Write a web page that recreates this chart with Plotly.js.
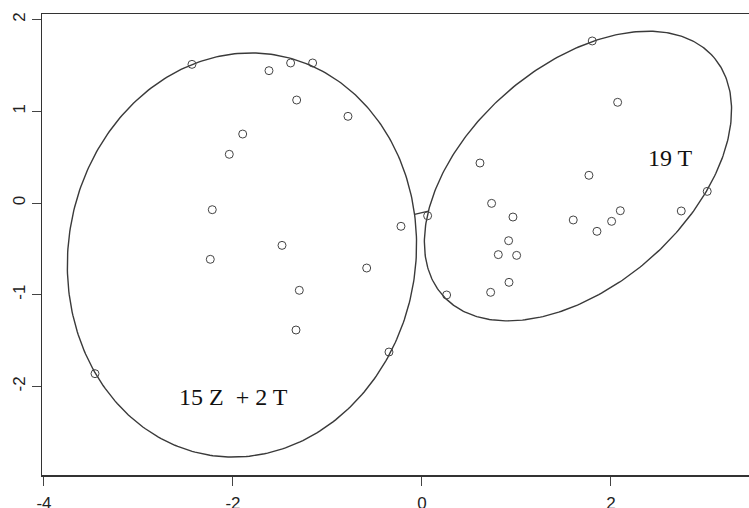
<!DOCTYPE html>
<html>
<head>
<meta charset="utf-8">
<script src="https://cdn.plot.ly/plotly-3.0.1.min.js"></script>
<style>html,body{margin:0;padding:0;background:#fff;}#chart{width:749px;height:508px;}</style>
</head>
<body>
<div id="chart"></div>
<script>
// Cluster 1 (15 Z + 2 T)
const cluster1X = [-2.434, -2.039, -1.897, -2.219, -2.240, -3.460, -1.619, -1.390, -1.157, -1.326, -0.783, -0.222, -1.481, -0.585, -1.298, -1.333, -0.349];
const cluster1Y = [1.512, 0.531, 0.752, -0.073, -0.614, -1.861, 1.443, 1.527, 1.527, 1.123, 0.945, -0.254, -0.462, -0.709, -0.952, -1.385, -1.625];
// Cluster 2 (19 T)
const cluster2X = [0.060, 0.261, 0.727, 1.802, 2.071, 1.767, 3.019, 2.744, 2.099, 2.007, 1.601, 1.852, 0.737, 0.963, 0.917, 0.808, 1.002, 0.921, 0.614];
const cluster2Y = [-0.139, -1.003, -0.974, 1.767, 1.098, 0.302, 0.127, -0.087, -0.084, -0.200, -0.185, -0.309, -0.004, -0.153, -0.411, -0.563, -0.571, -0.865, 0.436];
// Ellipse parameters: [centerX, centerY, semiAxisA, semiAxisB, angleDeg]
const ellipse1 = [-1.905, -0.567, 1.84, 2.21, -8];
const ellipse2 = [1.651, 0.294, 1.935, 1.180, 43.2];
const clusterLabels = ["15 Z  + 2 T", "19 T"];
const xTicks = [-4, -2, 0, 2];
const yTicks = [-2, -1, 0, 1, 2];

function ellipsePath(e) {
  const [cx, cy, a, b, deg] = e;
  const th = deg * Math.PI / 180;
  const xs = [], ys = [];
  for (let i = 0; i <= 360; i++) {
    const t = i * Math.PI / 180;
    xs.push(cx + a * Math.cos(t) * Math.cos(th) - b * Math.sin(t) * Math.sin(th));
    ys.push(cy + a * Math.cos(t) * Math.sin(th) + b * Math.sin(t) * Math.cos(th));
  }
  return [xs, ys];
}
function exitFraction(e, dx, dy) {
  const [cx, cy, a, b, deg] = e;
  const th = deg * Math.PI / 180;
  const du = dx * Math.cos(th) + dy * Math.sin(th);
  const dv = -dx * Math.sin(th) + dy * Math.cos(th);
  return 1 / Math.sqrt((du / a) ** 2 + (dv / b) ** 2);
}
const [e1x, e1y] = ellipsePath(ellipse1);
const [e2x, e2y] = ellipsePath(ellipse2);
const dx = ellipse2[0] - ellipse1[0], dy = ellipse2[1] - ellipse1[1];
const s1 = exitFraction(ellipse1, dx, dy);
const s2 = 1 - exitFraction(ellipse2, dx, dy);
const segX = [ellipse1[0] + s1 * dx, ellipse1[0] + s2 * dx];
const segY = [ellipse1[1] + s1 * dy, ellipse1[1] + s2 * dy];

const lineStyle = {color: '#3a3a3a', width: 1.4};
const markerStyle = {symbol: 'circle-open', size: 8, color: '#444', line: {width: 1, color: '#444'}};
const traces = [
  {x: e1x, y: e1y, mode: 'lines', line: lineStyle, hoverinfo: 'skip'},
  {x: e2x, y: e2y, mode: 'lines', line: lineStyle, hoverinfo: 'skip'},
  {x: segX, y: segY, mode: 'lines', line: lineStyle, hoverinfo: 'skip'},
  {x: cluster1X, y: cluster1Y, mode: 'markers', marker: markerStyle},
  {x: cluster2X, y: cluster2Y, mode: 'markers', marker: markerStyle}
];
const axisCommon = {
  showgrid: false, zeroline: false, showline: true, mirror: true,
  linecolor: '#333', linewidth: 1.5, ticks: 'outside', ticklen: 9, tickwidth: 1,
  tickcolor: '#444', tickfont: {family: 'Liberation Sans, Arial, sans-serif', size: 17, color: '#222'}
};
const layout = {
  width: 749, height: 508,
  margin: {l: 42, r: 0, t: 14, b: 33},
  paper_bgcolor: '#fff', plot_bgcolor: '#fff',
  showlegend: false,
  xaxis: Object.assign({}, axisCommon, {range: [-4.021, 3.461], tickvals: xTicks, ticktext: xTicks.map(String), ticklabelstandoff: 3}),
  yaxis: Object.assign({}, axisCommon, {range: [-2.966, 2.061], tickvals: yTicks, ticktext: yTicks.map(String), tickangle: -90, ticklabelstandoff: 0}),
  annotations: [
    {x: -1.995, y: -2.112, text: clusterLabels[0], showarrow: false, xref: 'x', yref: 'y', font: {family: 'Liberation Serif, Times New Roman, serif', size: 24, color: '#111'}},
    {x: 2.63, y: 0.49, text: clusterLabels[1], showarrow: false, xref: 'x', yref: 'y', font: {family: 'Liberation Serif, Times New Roman, serif', size: 24, color: '#111'}}
  ]
};
Plotly.newPlot('chart', traces, layout, {displayModeBar: false, staticPlot: true});
</script>
</body>
</html>
